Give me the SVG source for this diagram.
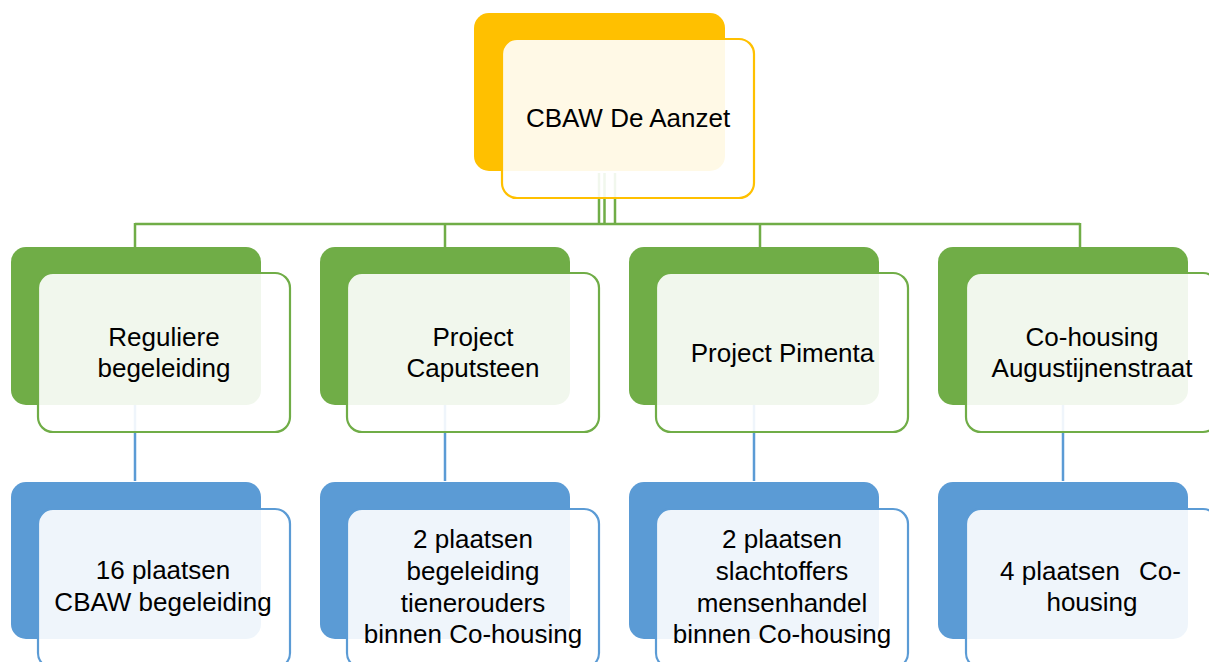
<svg xmlns="http://www.w3.org/2000/svg" width="1209" height="662" viewBox="0 0 1209 662">
<style>
.bg{fill:#ffffff}
.y{fill:#FFC000}
.g{fill:#70AD47}
.b{fill:#5B9BD5}
.front{fill:#ffffff;fill-opacity:0.9;stroke-width:2.2}
.fy{stroke:#FFC000}
.fg{stroke:#70AD47}
.fb{stroke:#5B9BD5}
.cg{stroke:#70AD47;stroke-width:2.5;fill:none}
.cb{stroke:#5B9BD5;stroke-width:2.5;fill:none}
text{font-family:"Liberation Sans",Arial,sans-serif;font-size:26px;fill:#000;text-anchor:middle}
</style>
<rect class="bg" x="0" y="0" width="1209" height="662"/>
<g id="connectors">
<path class="cg" d="M599 173V224M604.5 173V224M615 173V224"/>
<path class="cg" d="M135 224H1080M135 223V247M445 223V247M760 223V247M1080 223V247"/>
<path class="cb" d="M135 405V481M445 405V481M754 405V481M1063 405V481"/>
</g>
<g id="root">
<rect class="y" x="474" y="13" width="251" height="158" rx="15"/>
<rect class="front fy" x="502" y="39" width="252" height="159" rx="15"/>
<text x="628" y="127">CBAW De Aanzet</text>
</g>
<g id="n1">
<rect class="g" x="11" y="247" width="250" height="158" rx="15"/>
<rect class="front fg" x="38" y="273" width="252" height="159" rx="15"/>
<text x="164" y="346">Reguliere</text>
<text x="164" y="377">begeleiding</text>
</g>
<g id="n2">
<rect class="g" x="320" y="247" width="250" height="158" rx="15"/>
<rect class="front fg" x="347" y="273" width="252" height="159" rx="15"/>
<text x="473" y="346">Project</text>
<text x="473" y="377">Caputsteen</text>
</g>
<g id="n3">
<rect class="g" x="629" y="247" width="250" height="158" rx="15"/>
<rect class="front fg" x="656" y="273" width="252" height="159" rx="15"/>
<text x="782.5" y="362">Project Pimenta</text>
</g>
<g id="n4">
<rect class="g" x="938" y="247" width="250" height="158" rx="15"/>
<rect class="front fg" x="966" y="273" width="252" height="159" rx="15"/>
<text x="1092" y="346">Co-housing</text>
<text x="1092" y="377">Augustijnenstraat</text>
</g>
<g id="m1">
<rect class="b" x="11" y="482" width="250" height="157" rx="15"/>
<rect class="front fb" x="38" y="509" width="252" height="159" rx="15"/>
<text x="163" y="579">16 plaatsen</text>
<text x="163" y="611">CBAW begeleiding</text>
</g>
<g id="m2">
<rect class="b" x="320" y="482" width="250" height="157" rx="15"/>
<rect class="front fb" x="347" y="509" width="252" height="159" rx="15"/>
<text x="473" y="548">2 plaatsen</text>
<text x="473" y="580">begeleiding</text>
<text x="473" y="612">tienerouders</text>
<text x="473" y="643">binnen Co-housing</text>
</g>
<g id="m3">
<rect class="b" x="629" y="482" width="250" height="157" rx="15"/>
<rect class="front fb" x="656" y="509" width="252" height="159" rx="15"/>
<text x="782" y="548">2 plaatsen</text>
<text x="782" y="580">slachtoffers</text>
<text x="782" y="612">mensenhandel</text>
<text x="782" y="643">binnen Co-housing</text>
</g>
<g id="m4">
<rect class="b" x="938" y="482" width="250" height="157" rx="15"/>
<rect class="front fb" x="966" y="509" width="252" height="159" rx="15"/>
<text y="580"><tspan x="1000" style="text-anchor:start">4 plaatsen</tspan><tspan x="1181" style="text-anchor:end">Co-</tspan></text>
<text x="1092" y="611">housing</text>
</g>
</svg>
